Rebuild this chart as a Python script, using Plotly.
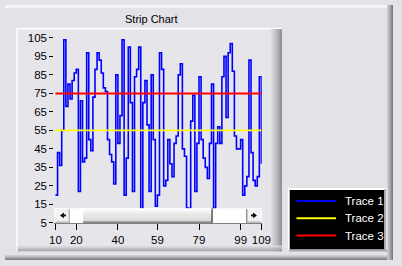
import plotly.graph_objects as go

# ---------------- data ----------------
x_start = 10
trace1_values = [
    20, 43, 36, 55, 104, 68, 80, 72, 82, 86,
    88, 22, 71, 38, 40, 97, 50, 44, 73, 88,
    97, 93, 86, 78, 76, 50, 42, 38, 26, 85,
    48, 63, 104, 20, 40, 100, 70, 22, 84, 88,
    100, 10, 70, 82, 58, 22, 85, 50, 14, 20,
    97, 88, 25, 28, 50, 37, 30, 48, 52, 85,
    91, 45, 41, 13, 9, 60, 74, 22, 48, 84,
    50, 40, 35, 29, 48, 80, 13, 48, 57, 48,
    84, 95, 62, 97, 102, 87, 52, 45, 45, 50,
    20, 25, 30, 93, 43, 28, 25, 30, 84, 37,
]
trace2_values = [55] * len(trace1_values)
trace3_values = [75] * len(trace1_values)
x_values = list(range(x_start, x_start + len(trace1_values)))

trace_names = ["Trace 1", "Trace 2", "Trace 3"]
trace_colors = ["#0000FF", "#FFFF00", "#FF0000"]
x_tick_vals = [10, 20, 40, 59, 79, 99, 109]
y_tick_vals = [5, 15, 25, 35, 45, 55, 65, 75, 85, 95, 105]
chart_title = "Strip Chart"

# ---------------- geometry helpers (pixels -> paper) ----------------
W, H = 402, 266


def px(x):
    return x / W


def py(y):
    return 1 - y / H


shapes = []


def rect(x0, y0, x1, y1, fill, line=None, lw=0, layer="below"):
    shapes.append(dict(type="rect", xref="paper", yref="paper",
                       x0=px(x0), x1=px(x1), y0=py(y1), y1=py(y0),
                       fillcolor=fill, layer=layer,
                       line=dict(color=line or fill, width=lw)))


def hline(x0, x1, y, color, w=1, layer="below"):
    shapes.append(dict(type="line", xref="paper", yref="paper",
                       x0=px(x0), x1=px(x1), y0=py(y), y1=py(y),
                       line=dict(color=color, width=w), layer=layer))


def vline(x, y0, y1, color, w=1, layer="below"):
    shapes.append(dict(type="line", xref="paper", yref="paper",
                       x0=px(x), x1=px(x), y0=py(y0), y1=py(y1),
                       line=dict(color=color, width=w), layer=layer))


def path(pts, color, layer="above"):
    d = "M " + " L ".join(f"{px(a)},{py(b)}" for a, b in pts) + " Z"
    shapes.append(dict(type="path", xref="paper", yref="paper", path=d,
                       fillcolor=color, line=dict(color=color, width=0), layer=layer))


def grad_h(x0, x1, y0, y1, c0, c1, layer="below"):
    n = int(x1 - x0)
    for i in range(n):
        t = i / max(n - 1, 1)
        c = tuple(int(c0[k] + (c1[k] - c0[k]) * t) for k in range(3))
        rect(x0 + i, y0, x0 + i + 1, y1, "rgb(%d,%d,%d)" % c, layer=layer)


def grad_v(x0, x1, y0, y1, c0, c1, layer="below"):
    n = int(y1 - y0)
    for i in range(n):
        t = i / max(n - 1, 1)
        c = tuple(int(c0[k] + (c1[k] - c0[k]) * t) for k in range(3))
        rect(x0, y0 + i, x1, y0 + i + 1, "rgb(%d,%d,%d)" % c, layer=layer)


# outer panel
rect(0, 0, 397, 3, "#F4F4F7")
grad_h(396, 402, 0, 266, (200, 200, 205), (120, 120, 125))
grad_v(0, 396, 261, 266, (200, 200, 205), (130, 130, 135))

# chart frame
rect(12, 24, 287, 257, "#E6E6EA")
hline(12, 287, 24.5, "#FFFFFF", 1.5)
vline(12.5, 24, 257, "#FFFFFF", 1.5)
grad_h(275, 287, 25, 257, (225, 225, 229), (140, 140, 145))
grad_v(13, 287, 251, 257, (225, 225, 229), (150, 150, 155))

# legend box
rect(293, 191, 396, 257, "#FFFFFF")
rect(295, 193, 393, 255, "#000000")
vline(394, 192, 257, "#A8A8AC", 2)
hline(294, 396, 256, "#A8A8AC", 2)
legend_y = [204.5, 222.5, 240.5]
annotations = []
for name, color, ly in zip(trace_names, trace_colors, legend_y):
    hline(302, 343, ly, color, 2)
    annotations.append(dict(text=name, xref="paper", yref="paper",
                            x=px(350), y=py(ly), xanchor="left", yanchor="middle",
                            showarrow=False,
                            font=dict(family="Liberation Sans", size=11.5, color="#FFFFFF")))

annotations.append(dict(text=chart_title, xref="paper", yref="paper",
                        x=px(152), y=py(15), xanchor="center", yanchor="middle",
                        showarrow=False,
                        font=dict(family="Liberation Sans", size=11, color="#000000")))

# scrollbar (overlays the bottom of the plot area)
rect(51, 212, 266, 228, "#FFFFFF", layer="above")
# left button
rect(52, 213, 67, 227, "#F2F2F2", layer="above")
hline(52, 67, 226.5, "#9A9A9A", 1, layer="above")
vline(66.5, 213, 227, "#9A9A9A", 1, layer="above")
path([(57, 219.5), (61, 216.5), (61, 222.5)], "#000000")
rect(61, 218.5, 63, 220.5, "#000000", layer="above")
# thumb
grad_v(81, 215, 213, 227, (250, 250, 250), (205, 205, 208), layer="above")
vline(214.5, 212, 227, "#303030", 1.2, layer="above")
hline(81, 215, 226.5, "#505050", 1, layer="above")
hline(81, 214, 213, "#FFFFFF", 1, layer="above")
# right button
rect(250, 213, 265, 227, "#F2F2F2", layer="above")
vline(250.5, 213, 227, "#6A6A6A", 1, layer="above")
hline(250, 265, 226.5, "#9A9A9A", 1, layer="above")
path([(261, 219.5), (257, 216.5), (257, 222.5)], "#000000")
rect(255, 218.5, 257, 220.5, "#000000", layer="above")

# ---------------- figure ----------------
fig = go.Figure()
widths = [1.6, 1.6, 2]
shapes_kind = ["hv", "linear", "linear"]
for vals, name, color, w, sh in zip([trace1_values, trace2_values, trace3_values],
                                    trace_names, trace_colors, widths, shapes_kind):
    fig.add_trace(go.Scatter(x=x_values, y=vals, mode="lines", name=name,
                             line=dict(color=color, width=w, shape=sh), showlegend=False,
                             hoverinfo="skip"))

fig.update_layout(
    width=W, height=H,
    margin=dict(l=0, r=0, t=0, b=0),
    paper_bgcolor="#E3E2E7",
    plot_bgcolor="#000000",
    showlegend=False,
    shapes=shapes,
    annotations=annotations,
    xaxis=dict(domain=[px(51), px(266)], range=[9.4, 109.15],
               tickmode="array", tickvals=x_tick_vals,
               ticks="outside", ticklen=6, tickcolor="#000000", tickwidth=1,
               showline=True, linecolor="#000000", linewidth=1,
               showgrid=False, zeroline=False,
               tickfont=dict(family="Liberation Sans", size=11.5, color="#000000")),
    yaxis=dict(domain=[py(227.5), py(33)], range=[4.9, 105.67],
               tickmode="array", tickvals=y_tick_vals,
               ticks="outside", ticklen=4, tickcolor="#000000", tickwidth=1,
               showline=False, showgrid=False, zeroline=False,
               tickfont=dict(family="Liberation Sans", size=11.5, color="#000000")),
)

fig.write_html("out.html", config={"displayModeBar": False})
